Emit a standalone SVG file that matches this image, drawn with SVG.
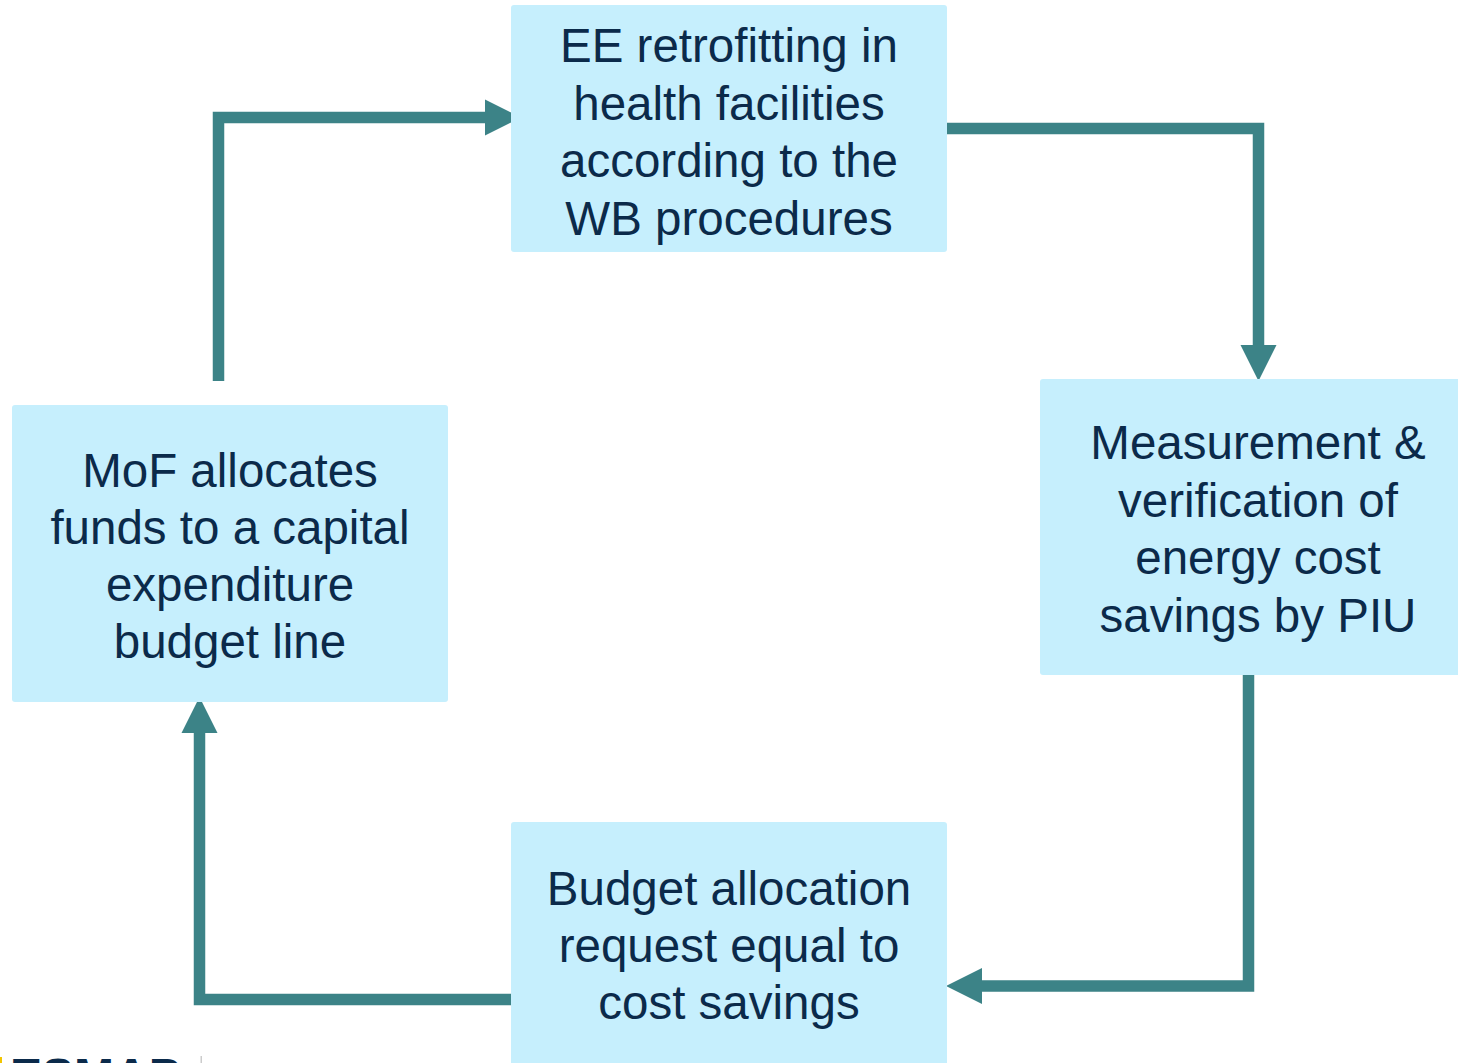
<svg xmlns="http://www.w3.org/2000/svg" width="1458" height="1063" viewBox="0 0 1458 1063">
<style>
.box{fill:#c6effd}
.lbl{font-family:"Liberation Sans",Arial,sans-serif;font-size:47.5px;fill:#0b2a4a;text-anchor:middle}
.con{fill:none;stroke:#3c8387;stroke-width:11.5;stroke-linejoin:miter;marker-end:url(#ah)}
</style>
<defs>
<marker id="ah" markerUnits="userSpaceOnUse" markerWidth="36" markerHeight="36" refX="0" refY="18" orient="auto" overflow="visible">
<path d="M0,0 L36,18 L0,36 Z" fill="#3c8387"/>
</marker>
</defs>
<rect width="1458" height="1063" fill="#ffffff"/>
<g id="connectors">
<path class="con" d="M218.5,381 V117.5 H485"/>
<path class="con" d="M947,128.5 H1258.5 V345"/>
<path class="con" d="M1248.5,675 V986 H982"/>
<path class="con" d="M511,999.5 H199.5 V733"/>
</g>
<g id="node-retrofit">
<rect class="box" x="511" y="5" width="436" height="247" rx="3"/>
<text class="lbl" x="729" y="62">EE retrofitting in</text>
<text class="lbl" x="729" y="119.5">health facilities</text>
<text class="lbl" x="729" y="177">according to the</text>
<text class="lbl" x="729" y="234.5">WB procedures</text>
</g>
<g id="node-mv">
<rect class="box" x="1040" y="379" width="425" height="296" rx="3"/>
<text class="lbl" x="1258" y="459">Measurement &amp;</text>
<text class="lbl" x="1258" y="516.5">verification of</text>
<text class="lbl" x="1258" y="574">energy cost</text>
<text class="lbl" x="1258" y="631.5">savings by PIU</text>
</g>
<g id="node-budget">
<rect class="box" x="511" y="822" width="436" height="250" rx="3"/>
<text class="lbl" x="729" y="905">Budget allocation</text>
<text class="lbl" x="729" y="962">request equal to</text>
<text class="lbl" x="729" y="1019">cost savings</text>
</g>
<g id="node-mof">
<rect class="box" x="12" y="405" width="436" height="297" rx="3"/>
<text class="lbl" x="230" y="487">MoF allocates</text>
<text class="lbl" x="230" y="544">funds to a capital</text>
<text class="lbl" x="230" y="601">expenditure</text>
<text class="lbl" x="230" y="658">budget line</text>
</g>
<g id="logo">
<rect x="0" y="1057" width="2" height="6" fill="#f2c500"/>
<text x="10" y="1092" font-family="'Liberation Sans',Arial,sans-serif" font-weight="bold" font-size="48" fill="#0b2a4a">ESMAP</text>
<rect x="200.5" y="1056" width="1.5" height="7" fill="#cccccc"/>
</g>
</svg>
